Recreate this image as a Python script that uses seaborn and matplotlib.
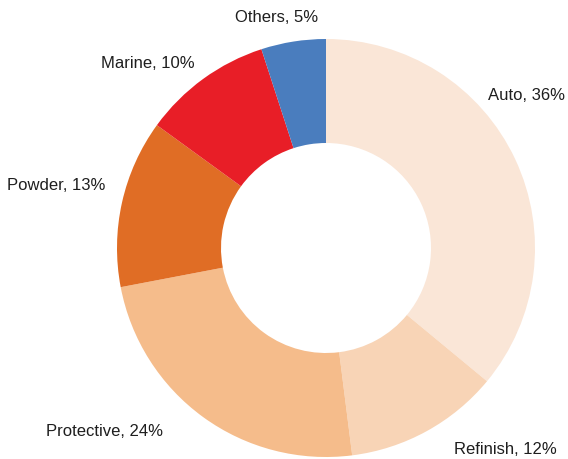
import matplotlib
matplotlib.use("Agg")
import matplotlib.pyplot as plt
import seaborn as sns

# Coatings market share by segment
segments = ["Auto", "Refinish", "Protective", "Powder", "Marine", "Others"]
shares = [36, 12, 24, 13, 10, 5]
colors = ["#FAE6D7", "#F8D4B6", "#F5BC8B", "#E06D25", "#E81E27", "#4A7DBE"]

# Label anchor points (figure pixels, origin top-left)
label_pos = {
    "Auto": (527, 95),
    "Refinish": (505, 450),
    "Protective": (104, 431),
    "Powder": (56, 185),
    "Marine": (148, 63),
    "Others": (277, 18),
}

sns.set_theme(style="white")
plt.rcParams["font.family"] = ["Liberation Sans", "DejaVu Sans"]

W, H = 568, 459
fig = plt.figure(figsize=(W / 100, H / 100), dpi=100)
ax = fig.add_axes([0, 0, 1, 1])

cx, cy, r_out, r_in = 326, H - 248, 209, 105
ax.pie(
    shares,
    colors=colors,
    startangle=90,
    counterclock=False,
    center=(cx, cy),
    radius=r_out,
    wedgeprops=dict(width=r_out - r_in, linewidth=0),
    frame=True,
)
ax.set_xlim(0, W)
ax.set_ylim(0, H)
ax.set_aspect("equal")
ax.axis("off")

for name, val in zip(segments, shares):
    x, y = label_pos[name]
    ax.text(x, H - y, f"{name}, {val}%", ha="center", va="center",
            fontsize=12, color="#1E1E1E")

fig.savefig("out.png", dpi=100, facecolor="white")
